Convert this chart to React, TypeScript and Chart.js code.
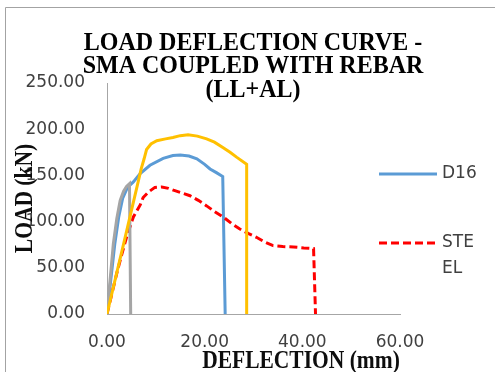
import React, { useEffect, useRef } from "react";
import { Chart, registerables } from "chart.js";

Chart.register(...registerables);

// Chart text
const titleLines = ["LOAD DEFLECTION CURVE -", "SMA COUPLED WITH REBAR", "(LL+AL)"];
const xAxisTitle = "DEFLECTION (mm)";
const yAxisTitle = "LOAD (kN)";

// Axis ranges and tick spacing
const xMin = 0;
const xMax = 60;
const xStep = 20;
const yMin = 0;
const yMax = 250;
const yStep = 50;

// D16 series (deflection mm, load kN)
const d16Deflection = [0, 0.8, 1.6, 2.4, 3.2, 4.2, 5.4, 6.8, 8.8, 11.5, 13.5, 15, 16.8, 18.4, 20, 21.1, 22.4, 23.7, 24.2];
const d16Load = [0, 38, 76, 105, 125, 137, 143, 152, 161, 168.5, 171.5, 172, 171, 168, 162, 157, 153, 148.7, 0];

// STEEL series
const steelDeflection = [0, 1, 2, 3, 4, 5.4, 6.8, 7.4, 8.5, 9.8, 11.2, 12.6, 13.6, 15.3, 17, 18.7, 20.4, 22, 23.8, 25.5, 27.2, 29, 30.6, 32.3, 34, 36, 38.2, 40.3, 42.3, 42.7];
const steelLoad = [0, 22, 44, 64, 83, 105, 118, 126, 132, 137, 137.5, 136, 134, 131, 128, 123, 117, 111, 105, 98, 92, 87, 83, 78, 74, 73, 72.5, 71.5, 70.8, 0];

// Series 3
const s3Deflection = [0, 0.6, 1.3, 2, 2.7, 3.4, 4, 4.6, 4.85];
const s3Load = [0, 35, 76, 103, 123, 133, 138, 141, 0];

// Series 4
const s4Deflection = [0, 3.5, 7, 7.6, 8.1, 9, 10.2, 12, 13.5, 15, 16.6, 18.5, 20.4, 22, 23.8, 25.2, 26.6, 28.6, 28.6];
const s4Load = [0, 78, 157, 168, 178, 184, 187.5, 189.5, 191, 193, 194, 192.5, 189.6, 186, 180, 175, 169.5, 162, 0];

// Series names
const seriesNames = ["D16", "STEEL", "Series3", "Series4"];
// Only the first two fit in the legend box
const legendCount = 2;

const toPoints = (xs: number[], ys: number[]) => xs.map((x, i) => ({ x, y: ys[i] }));

const W = 495;
const H = 372;
const textGrey = "#404040";
const tickFont = '"DejaVu Sans", sans-serif';
const serifBold = '"Liberation Serif", "Times New Roman", serif';

function wrapChars(ctx: CanvasRenderingContext2D, text: string, maxW: number): string[] {
  const lines: string[] = [];
  let cur = "";
  for (const ch of text) {
    if (cur && ctx.measureText(cur + ch).width > maxW) {
      lines.push(cur);
      cur = ch;
    } else {
      cur += ch;
    }
  }
  if (cur) lines.push(cur);
  return lines;
}

// Draws text at (x, y) with a rotation and a stretch perpendicular to the baseline
function tallText(ctx: CanvasRenderingContext2D, text: string, x: number, y: number, rot: number, stretch: number) {
  ctx.save();
  ctx.translate(x, y);
  ctx.rotate(rot);
  ctx.scale(1, stretch);
  ctx.fillText(text, 0, 0);
  ctx.restore();
}

const decorations = {
  id: "decorations",
  beforeDraw(chart: any) {
    const ctx: CanvasRenderingContext2D = chart.ctx;
    ctx.save();
    ctx.strokeStyle = "#a3a3a3";
    ctx.lineWidth = 1;
    ctx.beginPath();
    ctx.moveTo(5.5, chart.height + 2);
    ctx.lineTo(5.5, 7.5);
    ctx.lineTo(chart.width + 2, 7.5);
    ctx.stroke();
    ctx.restore();
  },
  afterDraw(chart: any) {
    const ctx: CanvasRenderingContext2D = chart.ctx;
    const area = chart.chartArea;
    ctx.save();

    // Title
    ctx.fillStyle = "#000000";
    ctx.font = `bold 24px ${serifBold}`;
    ctx.textAlign = "center";
    ctx.textBaseline = "alphabetic";
    const titleBase = [49.5, 73, 96.5];
    titleLines.forEach((line, i) => tallText(ctx, line, 253, titleBase[i], 0, 1.07));

    // Axis titles
    ctx.font = `bold 21.5px ${serifBold}`;
    ctx.fillStyle = "#0d0d0d";
    tallText(ctx, xAxisTitle, 301, 367.5, 0, 1.15);
    tallText(ctx, yAxisTitle, 31.5, (area.top + area.bottom) / 2, -Math.PI / 2, 1.15);

    // Legend
    const legendY = [174, 243];
    ctx.font = `17px ${tickFont}`;
    ctx.textAlign = "left";
    ctx.textBaseline = "middle";
    for (let i = 0; i < legendCount; i++) {
      const ds = chart.data.datasets[i];
      const y = legendY[i];
      ctx.save();
      ctx.strokeStyle = ds.borderColor;
      ctx.lineWidth = ds.borderWidth;
      ctx.setLineDash(ds.borderDash || []);
      ctx.lineCap = "butt";
      ctx.beginPath();
      ctx.moveTo(379, y);
      ctx.lineTo(437, y);
      ctx.stroke();
      ctx.restore();
      ctx.fillStyle = textGrey;
      const lines = wrapChars(ctx, ds.label, 40);
      lines.forEach((l, k) => ctx.fillText(l, 442, y + k * 25.5));
    }
    ctx.restore();
  },
};

export default function App() {
  const canvasRef = useRef<HTMLCanvasElement | null>(null);

  useEffect(() => {
    const canvas = canvasRef.current;
    if (!canvas) return;
    const chart = new Chart(canvas, {
      type: "line",
      data: {
        datasets: [
          {
            label: seriesNames[0],
            data: toPoints(d16Deflection, d16Load),
            borderColor: "#5B9BD5",
            borderWidth: 3,
            pointRadius: 0,
            tension: 0,
            order: 4,
          },
          {
            label: seriesNames[1],
            data: toPoints(steelDeflection, steelLoad),
            borderColor: "#FF0000",
            borderWidth: 3,
            borderDash: [8, 4],
            pointRadius: 0,
            tension: 0,
            order: 3,
          },
          {
            label: seriesNames[2],
            data: toPoints(s3Deflection, s3Load),
            borderColor: "#A5A5A5",
            borderWidth: 3,
            pointRadius: 0,
            tension: 0,
            order: 2,
          },
          {
            label: seriesNames[3],
            data: toPoints(s4Deflection, s4Load),
            borderColor: "#FFC000",
            borderWidth: 3,
            pointRadius: 0,
            tension: 0,
            order: 1,
          },
        ],
      },
      options: {
        responsive: false,
        animation: false,
        devicePixelRatio: 1,
        layout: { padding: { left: 0, top: 83, right: W - 400, bottom: 0 } },
        plugins: {
          legend: { display: false },
          title: { display: false },
          tooltip: { enabled: false },
        },
        scales: {
          x: {
            type: "linear",
            min: xMin,
            max: xMax,
            grid: { display: false, drawTicks: false },
            border: { display: true, color: "#a6a6a6", width: 1 },
            ticks: {
              stepSize: xStep,
              padding: 18,
              color: textGrey,
              font: { family: tickFont, size: 17 },
              callback: (v: any) => Number(v).toFixed(2),
              maxRotation: 0,
            },
            afterFit: (scale: any) => {
              scale.height = H - 314;
            },
          },
          y: {
            type: "linear",
            min: yMin,
            max: yMax,
            grid: { display: false, drawTicks: false },
            border: { display: true, color: "#a6a6a6", width: 1 },
            ticks: {
              stepSize: yStep,
              padding: 22,
              color: textGrey,
              font: { family: tickFont, size: 17 },
              callback: (v: any) => Number(v).toFixed(2),
            },
            afterFit: (scale: any) => {
              scale.width = 107;
            },
          },
        },
      },
      plugins: [decorations],
    });
    return () => chart.destroy();
  }, []);

  return (
    <div style={{ position: "fixed", left: 0, top: 0, width: W, height: H, background: "#ffffff" }}>
      <canvas ref={canvasRef} width={W} height={H} style={{ display: "block" }} />
    </div>
  );
}
